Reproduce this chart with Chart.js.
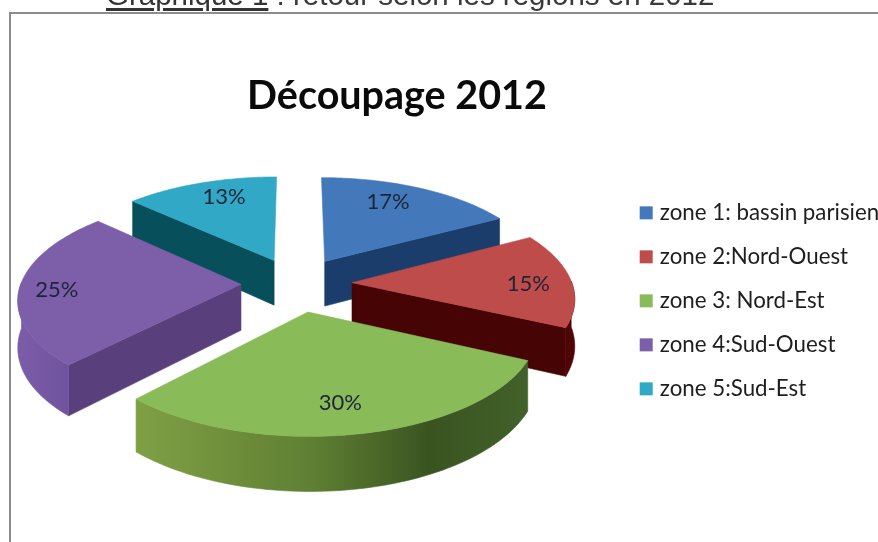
<!DOCTYPE html>
<html lang="fr">
<head>
<meta charset="utf-8">
<title>Découpage 2012</title>
<script src="https://cdn.jsdelivr.net/npm/chart.js@4"></script>
<style>
html,body{margin:0;padding:0;background:#fff;width:878px;height:542px;overflow:hidden}
#wrap{position:relative;width:878px;height:542px;overflow:hidden}
canvas{position:absolute;left:0;top:0}
#frame{position:absolute;left:9px;top:12px;width:900px;height:600px;border-left:2px solid #8c8c8c;border-top:2px solid #8c8c8c}
#cap{position:absolute;left:106px;top:-22px;font:29.5px "Liberation Sans",Arial,sans-serif;color:#3a3a3a;white-space:nowrap}
#cap u{text-decoration-thickness:3px;text-underline-offset:3px;color:#333}
</style>
</head>
<body>
<div id="wrap">
<canvas id="c" width="878" height="542"></canvas>
<div id="frame"></div>
<div id="cap"><u>Graphique 1</u> : retour selon les régions en 2012</div>
</div>
<script>
const categories = ['zone 1: bassin parisien','zone 2:Nord-Ouest','zone 3: Nord-Est','zone 4:Sud-Ouest','zone 5:Sud-Est'];
const shares = [17,15,30,25,13];
const topColors = ['#4379bb','#bd4c4a','#8abb59','#7c5ea9','#31a9c6'];
const cutColors = ['#1a3d6b','#470404','#55722f','#5a3f7d','#064f5b'];
const wallColors = ['#17375f','#4f0505','#5f7d32','#7558a4','#0a5a66'];
const explode = [26.4,25.5,28,25,25.8];
const labelReach = [0.76,0.8,0.77,0.83,0.78];
const labelTurn = [-0.08,0.05,0.03,-0.04,0.06];
const drawOrder = [4,0,3,1,2];
const title = 'Découpage 2012';

const VIEW = {cx:296, cy:283.5, A:220, B:100, D:46, p:0.13};
function project(u,v,z){
  const s = 1/(1 - VIEW.p*v);
  return {x:VIEW.cx + VIEW.A*u*s, y:VIEW.cy + VIEW.B*v*s + VIEW.D*z*s};
}
function poly(ctx,pts,fill){
  ctx.beginPath();
  pts.forEach((q,i)=> i ? ctx.lineTo(q.x,q.y) : ctx.moveTo(q.x,q.y));
  ctx.closePath();
  ctx.fillStyle = fill; ctx.fill();
  ctx.strokeStyle = fill; ctx.lineWidth = 0.6; ctx.stroke();
}
const pie3d = {
  id:'pie3d',
  afterLayout(chart){
    const t = chart.titleBlock;
    t.left = 197; t.right = 597; t.top = 73; t.bottom = 127;
    const l = chart.legend;
    l.left = 622; l.right = 1000; l.top = 180; l.bottom = 530;
  },
  beforeDatasetsDraw(chart){
    const ctx = chart.ctx, arcs = chart.getDatasetMeta(0).data;
    const geo = arcs.map(el=>{
      const R = el.outerRadius, mid = (el.startAngle+el.endAngle)/2, off = el.options.offset/R;
      return {el, mid, ox:off*Math.cos(mid), oy:off*Math.sin(mid)};
    });
    ctx.save();
    drawOrder.forEach(i=>{
      const {el,ox,oy} = geo[i];
      const rim = [], n = 64;
      for(let k=0;k<=n;k++){
        const a = el.startAngle + (el.endAngle-el.startAngle)*k/n;
        rim.push({a, p:[ox+Math.cos(a), oy+Math.sin(a)]});
      }
      const at = (q,z)=>project(q[0],q[1],z);
      const apex = [ox,oy];
      if(Math.cos(el.startAngle) < -1e-6) poly(ctx,[at(apex,0),at(rim[0].p,0),at(rim[0].p,1),at(apex,1)],cutColors[i]);
      if(Math.cos(el.endAngle) > 1e-6) poly(ctx,[at(apex,0),at(rim[n].p,0),at(rim[n].p,1),at(apex,1)],cutColors[i]);
      let wall = wallColors[i];
      if(i===2){
        wall = ctx.createLinearGradient(140,0,525,0);
        wall.addColorStop(0,'#7f9f45'); wall.addColorStop(0.45,'#5f7f33');
        wall.addColorStop(0.75,'#3a5420'); wall.addColorStop(1,'#41602a');
      }
      if(i===3){
        wall = ctx.createLinearGradient(20,0,80,0);
        wall.addColorStop(0,'#7a5ca8'); wall.addColorStop(1,'#6e519b');
      }
      const front = rim.filter(r=>Math.sin(r.a) > -0.02).map(r=>r.p);
      if(front.length>1) poly(ctx,front.map(q=>at(q,0)).concat(front.slice().reverse().map(q=>at(q,1))),wall);
      poly(ctx,[at(apex,0)].concat(rim.map(r=>at(r.p,0))),topColors[i]);
    });
    ctx.font = '22px Lato, sans-serif';
    ctx.fillStyle = '#1c2438';
    ctx.textAlign = 'center'; ctx.textBaseline = 'middle';
    geo.forEach(({mid,ox,oy},i)=>{
      const b = mid + labelTurn[i];
      const q = project(ox+labelReach[i]*Math.cos(b), oy+labelReach[i]*Math.sin(b), 0);
      ctx.fillText(shares[i]+'%', q.x, q.y);
    });
    ctx.restore();
    return false;
  }
};
new Chart(document.getElementById('c'),{
  type:'pie',
  data:{labels:categories,datasets:[{data:shares,backgroundColor:topColors,offset:explode,borderWidth:0}]},
  options:{
    responsive:false, animation:false, events:[],
    radius:100,
    plugins:{
      tooltip:{enabled:false},
      title:{display:true,text:title,color:'#0a0a0a',padding:0,font:{family:'Lato, sans-serif',size:39.5,weight:'bold'}},
      legend:{position:'right',align:'start',labels:{
        color:'#1e1e1e',boxWidth:5,boxHeight:5,padding:21.7,
        font:{family:'Lato, sans-serif',size:22.3},
        generateLabels(chart){
          return Chart.overrides.pie.plugins.legend.labels.generateLabels(chart).map(item=>
            Object.assign(item,{strokeStyle:item.fillStyle,lineWidth:8,lineJoin:'miter'}));
        }
      }}
    }
  },
  plugins:[pie3d]
});
</script>
</body>
</html>
